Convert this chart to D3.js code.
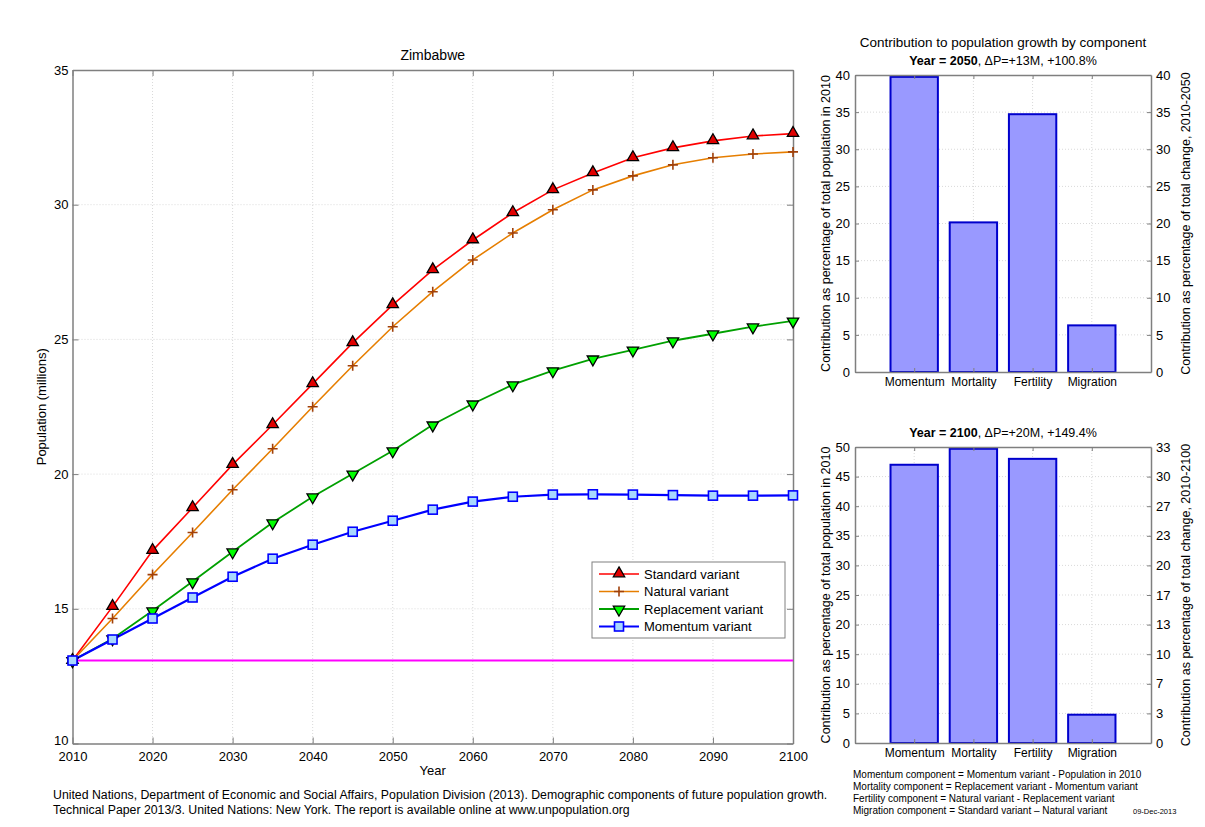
<!DOCTYPE html>
<html><head><meta charset="utf-8">
<script src="https://cdn.jsdelivr.net/npm/d3@7"></script>
<style>
html,body{margin:0;padding:0;background:#fff;}
svg{display:block;font-family:Arial,"Liberation Sans",sans-serif;}
</style></head>
<body><svg id="c" width="1205" height="827"></svg>
<script>
// ---------------- DATA ----------------
const years = [2010,2015,2020,2025,2030,2035,2040,2045,2050,2055,2060,2065,2070,2075,2080,2085,2090,2095,2100];
const standardVariant    = [13.08,15.08,17.16,18.75,20.35,21.83,23.35,24.87,26.28,27.58,28.69,29.70,30.55,31.18,31.74,32.11,32.37,32.55,32.64];
const naturalVariant     = [13.08,14.64,16.27,17.83,19.42,20.94,22.50,24.02,25.47,26.77,27.95,28.95,29.81,30.55,31.07,31.48,31.74,31.88,31.96];
const replacementVariant = [13.08,13.89,14.93,16.01,17.12,18.20,19.16,20.01,20.87,21.83,22.61,23.32,23.84,24.28,24.61,24.95,25.21,25.47,25.69];
const momentumVariant    = [13.08,13.86,14.64,15.42,16.19,16.86,17.38,17.86,18.27,18.68,18.98,19.16,19.24,19.25,19.24,19.22,19.20,19.20,19.21];
const population2010 = 13.08;
const seriesNames = ["Standard variant","Natural variant","Replacement variant","Momentum variant"];
const yearTicks = [2010,2020,2030,2040,2050,2060,2070,2080,2090,2100];
const popTicks = [10,15,20,25,30,35];

const components = ["Momentum","Mortality","Fertility","Migration"];
const contrib2050 = [39.75,20.15,34.72,6.28];
const contrib2100 = [47.0,49.7,48.0,4.78];
const leftTicks2050 = [0,5,10,15,20,25,30,35,40];
const rightLabels2050 = ["0","5","10","15","20","25","30","35","40"];
const leftTicks2100 = [0,5,10,15,20,25,30,35,40,45,50];
const rightLabels2100 = ["0","3","7","10","13","17","20","23","27","30","33"];

const notes = [
 "Momentum component = Momentum variant - Population in 2010",
 "Mortality component = Replacement variant - Momentum variant",
 "Fertility component = Natural variant - Replacement variant",
 "Migration component = Standard variant \u2013 Natural variant"
];
const footer = [
 "United Nations, Department of Economic and Social Affairs, Population Division (2013). Demographic components of future population growth.",
 "Technical Paper 2013/3. United Nations: New York. The report is available online at www.unpopulation.org"
];

// ---------------- DRAW ----------------
const svg = d3.select("#c");
const axisCol = "#7f7f7f", gridCol = "#d9d9d9";

// ===== Left line chart =====
const L = {x0:72.5, x1:793, y0:70, y1:743.5};
const x = d3.scaleLinear().domain([2010,2100]).range([L.x0,L.x1]);
const y = d3.scaleLinear().domain([10,35]).range([L.y1,L.y0]);
const gL = svg.append("g");

// grid
gL.selectAll(".gx").data(yearTicks.slice(1,-1)).join("line")
  .attr("x1",d=>x(d)).attr("x2",d=>x(d)).attr("y1",L.y0).attr("y2",L.y1)
  .attr("stroke",gridCol).attr("stroke-dasharray","1,2").attr("stroke-width",1);
gL.selectAll(".gy").data(popTicks.slice(1,-1)).join("line")
  .attr("y1",d=>y(d)).attr("y2",d=>y(d)).attr("x1",L.x0).attr("x2",L.x1)
  .attr("stroke",gridCol).attr("stroke-dasharray","1,2").attr("stroke-width",1);

// axes
function styleAxis(g){
  g.selectAll("path.domain").attr("stroke",axisCol);
  g.selectAll(".tick line").attr("stroke",axisCol);
  g.selectAll(".tick text").attr("fill","#000").attr("font-size","13px")
   .attr("font-family",'Arial,"Liberation Sans",sans-serif');
}
const ax = gL.append("g").attr("transform",`translate(0,${L.y1})`)
  .call(d3.axisBottom(x).tickValues(yearTicks).tickFormat(d3.format("d")).tickSizeInner(-6).tickSizeOuter(0).tickPadding(8));
styleAxis(ax);
const axT = gL.append("g").attr("transform",`translate(0,${L.y0})`)
  .call(d3.axisTop(x).tickValues(yearTicks).tickFormat("").tickSizeInner(-6).tickSizeOuter(0));
styleAxis(axT);
const ay = gL.append("g").attr("transform",`translate(${L.x0},0)`)
  .call(d3.axisLeft(y).tickValues(popTicks).tickSizeInner(-6).tickSizeOuter(0).tickPadding(4));
styleAxis(ay);
ay.selectAll(".tick text").attr("dy",(d)=> d===10 ? "0.1em" : "0.32em");
const ayR = gL.append("g").attr("transform",`translate(${L.x1},0)`)
  .call(d3.axisRight(y).tickValues(popTicks).tickFormat("").tickSizeInner(-6).tickSizeOuter(0));
styleAxis(ayR);
[ax,axT,ay,ayR].forEach(g=>g.selectAll("path.domain").attr("stroke-width",1.5));

// baseline (population 2010)
gL.append("line").attr("x1",x(2010)).attr("x2",x(2100))
  .attr("y1",y(population2010)).attr("y2",y(population2010))
  .attr("stroke","#ff00ff").attr("stroke-width",2);

const series = [
  {name:seriesNames[0], vals:standardVariant, line:"#ff0000", w:1.6, marker:"tri", fill:"#e00000", edge:"#000"},
  {name:seriesNames[1], vals:naturalVariant, line:"#e67e00", w:1.6, marker:"plus", fill:"none", edge:"#a0400a"},
  {name:seriesNames[2], vals:replacementVariant, line:"#00a000", w:1.8, marker:"tridown", fill:"#00ff00", edge:"#000"},
  {name:seriesNames[3], vals:momentumVariant, line:"#0000ff", w:2.2, marker:"sq", fill:"#a8d8ff", edge:"#0000ff"}
];
const lineGen = d3.line().x((d,i)=>x(years[i])).y(d=>y(d));

function drawMarker(g, s, cx, cy){
  if(s.marker==="tri"){
    g.append("path").attr("d",d3.symbol(d3.symbolTriangle,56)()).attr("transform",`translate(${cx},${cy-0.5})`)
     .attr("fill",s.fill).attr("stroke",s.edge).attr("stroke-width",1.3);
  } else if(s.marker==="tridown"){
    g.append("path").attr("d",d3.symbol(d3.symbolTriangle,56)()).attr("transform",`translate(${cx},${cy+0.5}) rotate(180)`)
     .attr("fill",s.fill).attr("stroke",s.edge).attr("stroke-width",1.3);
  } else if(s.marker==="plus"){
    g.append("path").attr("d","M-5,0H5M0,-5V5").attr("transform",`translate(${cx},${cy})`)
     .attr("stroke",s.edge).attr("stroke-width",1.6).attr("fill","none");
  } else {
    g.append("rect").attr("x",cx-4.5).attr("y",cy-4.5).attr("width",9).attr("height",9)
     .attr("fill",s.fill).attr("stroke",s.edge).attr("stroke-width",1.6);
  }
}
series.forEach(s=>{
  gL.append("path").datum(s.vals).attr("d",lineGen).attr("fill","none")
    .attr("stroke",s.line).attr("stroke-width",s.w);
});
series.forEach(s=>{
  const gm = gL.append("g");
  s.vals.forEach((v,i)=>drawMarker(gm,s,x(years[i]),y(v)));
});

// title & labels
gL.append("text").attr("x",(L.x0+L.x1)/2).attr("y",60).attr("text-anchor","middle")
  .attr("font-size","14px").text("Zimbabwe");
gL.append("text").attr("x",(L.x0+L.x1)/2).attr("y",775).attr("text-anchor","middle")
  .attr("font-size","13px").text("Year");
gL.append("text").attr("transform",`translate(46,${(L.y0+L.y1)/2}) rotate(-90)`).attr("text-anchor","middle")
  .attr("font-size","13px").text("Population (millions)");

// legend
const lg = gL.append("g");
lg.append("rect").attr("x",592).attr("y",562).attr("width",193).attr("height",76)
  .attr("fill","#fff").attr("stroke","#808080").attr("stroke-width",1);
series.forEach((s,i)=>{
  const ly = 574 + i*17.5;
  lg.append("line").attr("x1",599).attr("x2",639).attr("y1",ly).attr("y2",ly)
    .attr("stroke",s.line).attr("stroke-width",s.w);
  drawMarker(lg,s,619,ly);
  lg.append("text").attr("x",644).attr("y",ly+4.5).attr("font-size","13px").text(s.name);
});

// ===== Bar charts =====
function barChart(top, bottom, values, leftTicks, rightLabels, ymax, yearStr, dP, pct, rightLabel){
  const B = {x0:855, x1:1151, y0:top, y1:bottom};
  const xb = d3.scaleLinear().domain([0,5]).range([B.x0,B.x1]);
  const yb = d3.scaleLinear().domain([0,ymax]).range([B.y1,B.y0]);
  const g = svg.append("g");
  const cats = components.map((c,i)=>i+1);
  // grid
  g.selectAll(".gx").data(cats).join("line")
    .attr("x1",d=>xb(d)).attr("x2",d=>xb(d)).attr("y1",B.y0).attr("y2",B.y1)
    .attr("stroke",gridCol).attr("stroke-dasharray","1,2");
  g.selectAll(".gy").data(leftTicks.slice(1,-1)).join("line")
    .attr("y1",d=>yb(d)).attr("y2",d=>yb(d)).attr("x1",B.x0).attr("x2",B.x1)
    .attr("stroke",gridCol).attr("stroke-dasharray","1,2");
  // bars
  const bw = (xb(1)-xb(0))*0.8;
  g.selectAll(".bar").data(values).join("rect")
    .attr("x",(d,i)=>xb(i+1)-bw/2).attr("width",bw)
    .attr("y",d=>yb(d)).attr("height",d=>yb(0)-yb(d))
    .attr("fill","#9999ff").attr("stroke","#0000cc").attr("stroke-width",2);
  // axes
  const a1 = g.append("g").attr("transform",`translate(${B.x0},0)`)
    .call(d3.axisLeft(yb).tickValues(leftTicks).tickSizeInner(-4).tickSizeOuter(0).tickPadding(5));
  const a2 = g.append("g").attr("transform",`translate(${B.x1},0)`)
    .call(d3.axisRight(yb).tickValues(leftTicks).tickFormat((d,i)=>rightLabels[i]).tickSizeInner(-4).tickSizeOuter(0).tickPadding(5));
  const a3 = g.append("g").attr("transform",`translate(0,${B.y1})`)
    .call(d3.axisBottom(xb).tickValues(cats).tickFormat((d,i)=>components[i]).tickSizeInner(-4).tickSizeOuter(0).tickPadding(5));
  const a4 = g.append("g").attr("transform",`translate(0,${B.y0})`)
    .call(d3.axisTop(xb).tickValues(cats).tickFormat("").tickSizeInner(-4).tickSizeOuter(0));
  [a1,a2,a3,a4].forEach(a=>{styleAxis(a); a.selectAll("path.domain").attr("stroke-width",1.5);});
  a3.selectAll(".tick text").attr("font-size","12px");
  // titles
  const t = g.append("text").attr("x",(B.x0+B.x1)/2).attr("y",top-10).attr("text-anchor","middle").attr("font-size","12.5px");
  t.append("tspan").attr("font-weight","bold").text("Year = "+yearStr);
  t.append("tspan").text(", \u0394P=+"+dP+"M, +"+pct+"%");
  g.append("text").attr("transform",`translate(830,${(B.y0+B.y1)/2}) rotate(-90)`).attr("text-anchor","middle")
    .attr("font-size","12.5px").text("Contribution as percentage of total population in 2010");
  g.append("text").attr("transform",`translate(1190,${(B.y0+B.y1)/2}) rotate(-90)`).attr("text-anchor","middle")
    .attr("font-size","12.5px").text(rightLabel);
}
svg.append("text").attr("x",1003).attr("y",47).attr("text-anchor","middle").attr("font-size","13.5px")
  .text("Contribution to population growth by component");
barChart(75,372,contrib2050,leftTicks2050,rightLabels2050,40,"2050","13","100.8","Contribution as percentage of total change, 2010-2050");
barChart(447,743,contrib2100,leftTicks2100,rightLabels2100,50,"2100","20","149.4","Contribution as percentage of total change, 2010-2100");

// notes
notes.forEach((n,i)=>{
  svg.append("text").attr("x",853).attr("y",778+i*12).attr("font-size","10px").text(n);
});
svg.append("text").attr("x",1133).attr("y",814).attr("font-size","7.5px").text("09-Dec-2013");
footer.forEach((f,i)=>{
  svg.append("text").attr("x",53).attr("y",799+i*14.5).attr("font-size","12.3px").text(f);
});
</script></body></html>
